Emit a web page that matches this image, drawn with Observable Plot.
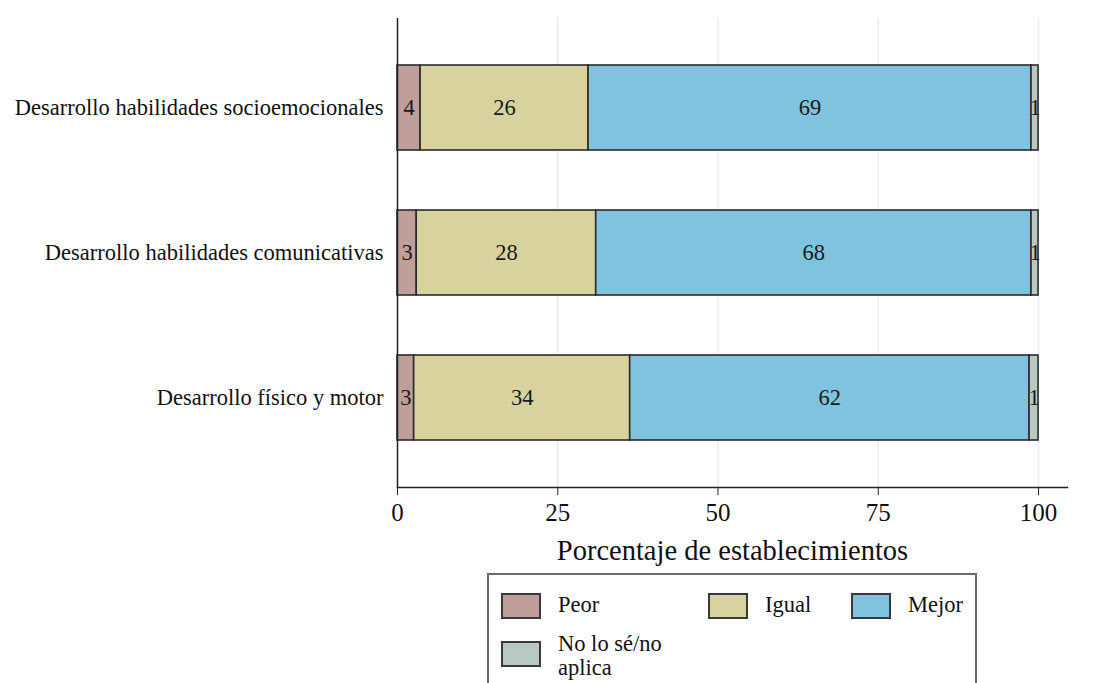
<!DOCTYPE html>
<html>
<head>
<meta charset="utf-8">
<script src="https://cdn.jsdelivr.net/npm/d3@7"></script>
<script src="https://cdn.jsdelivr.net/npm/@observablehq/plot@0.6"></script>
<style>
  body { margin: 0; background: #fff; font-family: "Liberation Serif", "DejaVu Serif", serif; }
  #wrap { position: relative; width: 1097px; height: 683px; overflow: hidden; }
  #chart svg, #chart svg text { font-family: "Liberation Serif", serif !important; }
  #legend { position: absolute; left: 487px; top: 573px; width: 490px; height: 130px; border: 2px solid #6a6a6a; box-sizing: border-box; }
  .sw { position: absolute; width: 40px; height: 26px; border: 2px solid #3a3a3a; box-sizing: border-box; }
  .lt { position: absolute; font-size: 22.5px; color: #111; line-height: 24px; }
</style>
</head>
<body>
<div id="wrap"><div id="chart"></div><div id="legend"></div></div>
<script>
const categories = ["Desarrollo habilidades socioemocionales", "Desarrollo habilidades comunicativas", "Desarrollo físico y motor"];
const responses = ["Peor", "Igual", "Mejor", "No lo sé/no aplica"];
const colors = ["#c09f9b", "#d8d39e", "#7fc3de", "#b8c9c2"];
const peor  = [3.6, 3.0, 2.6];
const igual = [26.2, 28.0, 33.7];
const mejor = [69.1, 67.9, 62.3];
const noSabe = [1.1, 1.1, 1.4];
const labels = [
  ["4", "26", "69", "1"],
  ["3", "28", "68", "1"],
  ["3", "34", "62", "1"]
];
const xTicks = [0, 25, 50, 75, 100];
const xTitle = "Porcentaje de establecimientos";

const series = [peor, igual, mejor, noSabe];
const data = [];
categories.forEach((c, i) => {
  responses.forEach((r, j) => {
    data.push({cat: c, resp: r, value: series[j][i], label: labels[i][j]});
  });
});

const chart = Plot.plot({
  width: 1097,
  height: 570,
  marginLeft: 397,
  marginRight: 30,
  marginTop: 18,
  marginBottom: 83,
  style: {fontFamily: "'Liberation Serif', serif", background: "#fff", color: "#111"},
  x: {domain: [0, 104.52], ticks: xTicks, label: null},
  y: {domain: categories, paddingInner: 0.414, paddingOuter: 0.324, label: null},
  color: {domain: responses, range: colors},
  marks: [
    Plot.ruleX(xTicks.slice(1), {stroke: "#e6eef5", strokeWidth: 1.5}),
    Plot.barX(data, Plot.stackX({x: "value", y: "cat", fill: "resp", order: responses, stroke: "#2b2b2b", strokeWidth: 1.6, inset: 0})),
    Plot.text(data, Plot.stackX({x: "value", y: "cat", z: "resp", order: responses, text: "label", fontSize: 22.5, fill: "#1a1a1a"})),
    Plot.ruleX([0], {stroke: "#222", strokeWidth: 1.5}),
    Plot.frame({anchor: "bottom", stroke: "#222", strokeWidth: 1.5}),
    Plot.axisX({ticks: xTicks, tickSize: 8, tickPadding: 8, fontSize: 25, label: null, stroke: "#222"}),
    Plot.axisX({ticks: [], label: xTitle, labelAnchor: "center", labelArrow: "none", labelOffset: 72, fontSize: 28.5, tickSize: 0}),
    Plot.axisY({tickSize: 0, tickPadding: 14, fontSize: 22.5, label: null})
  ]
});
document.getElementById("chart").appendChild(chart);

// legend
const legend = document.getElementById("legend");
const pos = [[12, 18], [219, 18], [362, 18], [12, 66]];
responses.forEach((r, j) => {
  const [lx, ly] = pos[j];
  const sw = document.createElement("div");
  sw.className = "sw";
  sw.style.left = lx + "px";
  sw.style.top = ly + "px";
  sw.style.background = colors[j];
  legend.appendChild(sw);
  const t = document.createElement("div");
  t.className = "lt";
  t.style.left = (lx + 57) + "px";
  if (j === 3) {
    t.style.top = (ly - 9) + "px";
    t.innerHTML = "No lo sé/no<br>aplica";
  } else {
    t.style.top = (ly + 0) + "px";
    t.textContent = r;
  }
  legend.appendChild(t);
});
</script>
</body>
</html>
